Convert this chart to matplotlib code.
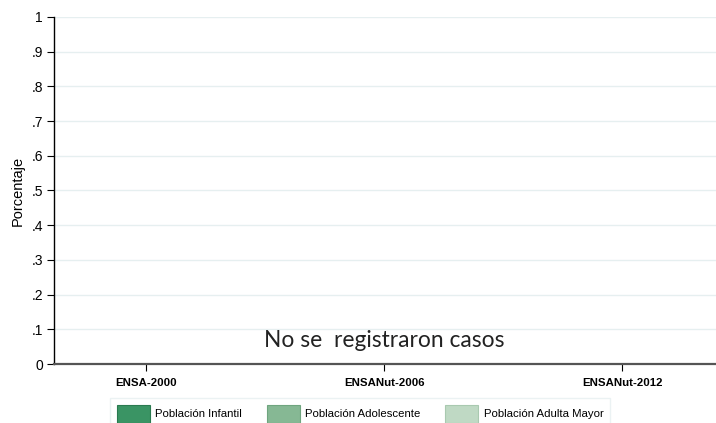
import matplotlib
matplotlib.use("Agg")
import matplotlib.pyplot as plt
import numpy as np
from matplotlib.patches import Patch

plt.rcParams['font.family'] = ['Liberation Sans', 'DejaVu Sans']

encuestas = ['ENSA-2000', 'ENSANut-2006', 'ENSANut-2012']
grupos = ['Población Infantil', 'Población Adolescente', 'Población Adulta Mayor']
colores = ['#3a9464', '#86b894', '#bfd9c4']
bordes = ['#2a7a50', '#6fa57f', '#a9c9b0']
# sin casos registrados en ninguna encuesta
valores = {
    'Población Infantil': [0, 0, 0],
    'Población Adolescente': [0, 0, 0],
    'Población Adulta Mayor': [0, 0, 0],
}
yticks = [0, .1, .2, .3, .4, .5, .6, .7, .8, .9, 1]
ytick_labels = ['0', '.1', '.2', '.3', '.4', '.5', '.6', '.7', '.8', '.9', '1']

fig = plt.figure(figsize=(7.16, 4.23), dpi=100)
ax = fig.add_axes([54 / 716, 1 - 364 / 423, (716 - 54) / 716, (364 - 17) / 423])

x = np.arange(1, len(encuestas) + 1)
w = 0.25
for i, g in enumerate(grupos):
    ax.bar(x + (i - 1) * w, valores[g], w, color=colores[i], linewidth=0)

ax.set_xlim(0.613, 3.395)
ax.set_ylim(0, 1)
ax.set_yticks(yticks)
ax.set_yticklabels(ytick_labels, fontsize=10)
ax.set_xticks(x)
ax.set_xticklabels(encuestas, fontsize=8.2, fontweight='bold')
ax.tick_params(axis='y', length=5, width=0.8, pad=3, colors='black')
ax.tick_params(axis='x', length=5, width=0.8, pad=5)
ax.yaxis.grid(True, color='#e6eff0', linewidth=1)
ax.set_axisbelow(True)
for s in ['top', 'right']:
    ax.spines[s].set_visible(False)
ax.spines['left'].set_linewidth(1)
ax.spines['bottom'].set_linewidth(1.6)
ax.spines['bottom'].set_color('#555555')
ax.set_ylabel('Porcentaje', fontsize=10.5, labelpad=5)

ax.text(2.0, 0.068, 'No se  registraron casos', ha='center', va='center',
        fontsize=16.4, family=['Lato', 'DejaVu Sans'], color='#222222')

handles = [Patch(facecolor=colores[i], edgecolor=bordes[i], linewidth=0.8, label=g)
           for i, g in enumerate(grupos)]
leg = fig.legend(handles=handles, loc='upper center', bbox_to_anchor=(0.503, 1 - 392 / 423),
                 ncol=3, fontsize=8.2, frameon=True, fancybox=False,
                 handlelength=2.9, handleheight=2.1, handletextpad=0.45,
                 columnspacing=2.2, borderpad=0.6)
leg.get_frame().set_edgecolor('#e6eff0')
leg.get_frame().set_linewidth(1)

fig.savefig('out.png', dpi=100)
